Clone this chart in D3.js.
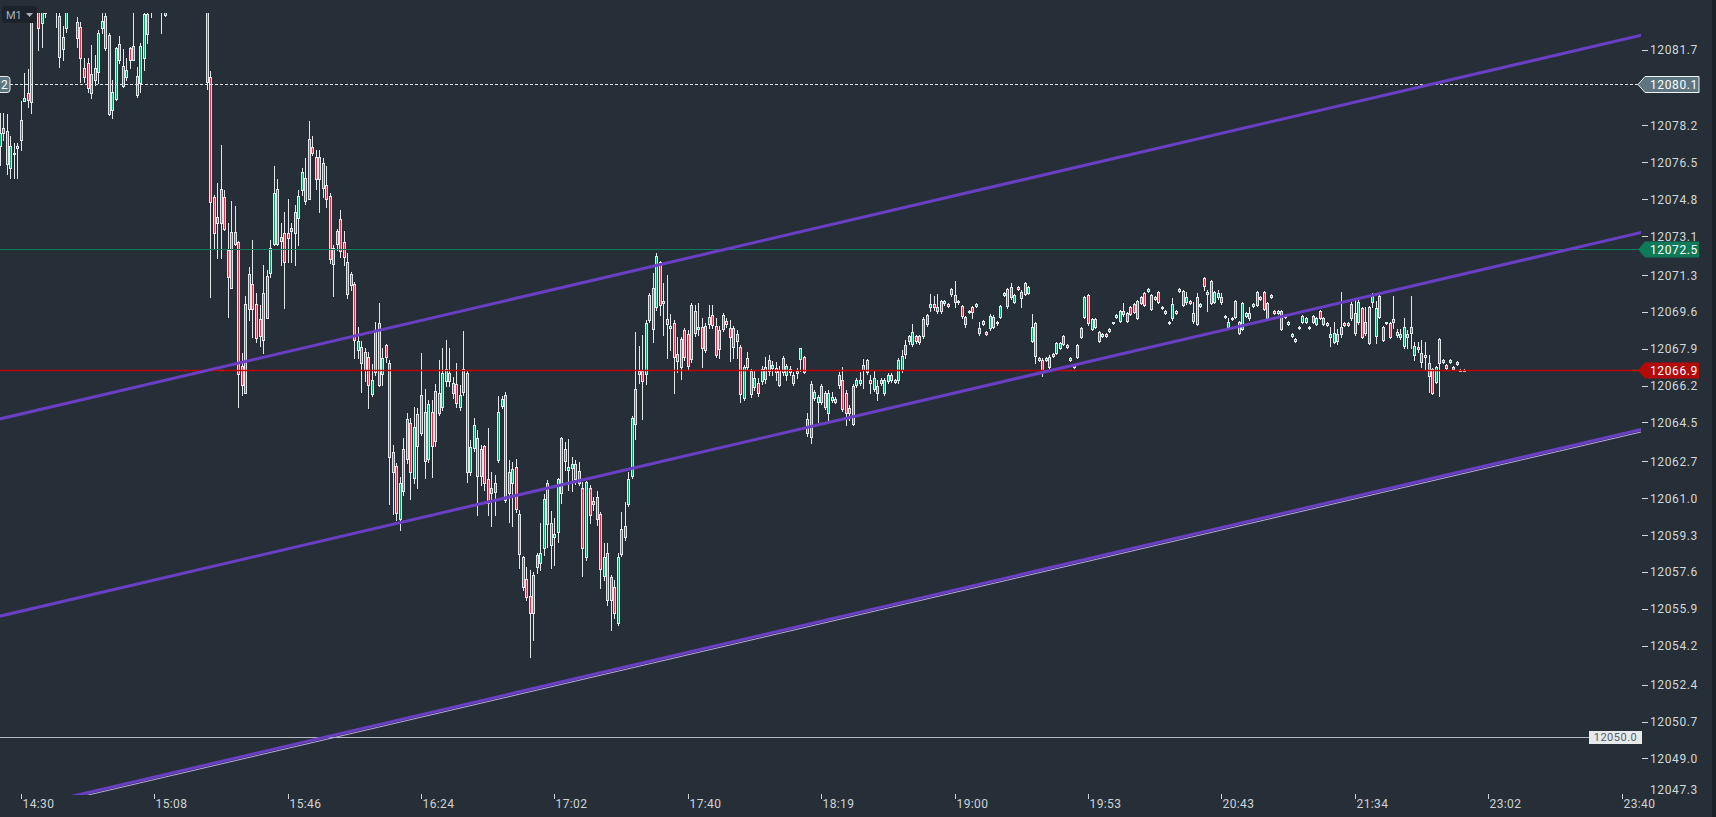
<!DOCTYPE html>
<html>
<head>
<meta charset="utf-8">
<script src="https://cdn.jsdelivr.net/npm/d3@7"></script>
<style>
html, body { margin: 0; padding: 0; background: #262f37; overflow: hidden; }
svg { display: block; }
text { font-family: Roboto, "Noto Sans", sans-serif; }
</style>
</head>
<body>
<div id="wrapper"></div>
<script>
// M1 candles, [open, high, low, close]; first row is bar -6 (14:30 is bar 0)
const firstBar = -6;
const bars = [
[12077.25,12078.78,12076.38,12077.85],[12078.08,12078.78,12077.53,12077.85],[12077.94,12078.73,12075.96,12076.42],
[12076.24,12077.71,12075.78,12077.25],[12076.93,12077.39,12075.78,12076.88],[12077.16,12077.39,12075.78,12077.25],
[12077.53,12079.33,12077.07,12078.45],[12079.33,12080.62,12079.33,12079.47],[12079.70,12080.81,12079.05,12079.38],
[12079.28,12084.20,12078.78,12083.80],[12083.80,12084.60,12083.50,12084.20],[12084.00,12084.50,12081.68,12082.70],
[12082.93,12084.10,12081.82,12083.60],[12083.40,12084.00,12083.20,12083.50],[12084.00,12084.80,12083.60,12084.40],
[12084.40,12085.00,12083.70,12084.00],[12084.20,12084.60,12082.74,12083.80],[12083.25,12083.60,12080.90,12081.36],
[12081.73,12082.80,12081.22,12082.28],[12082.70,12084.00,12082.50,12083.60],[12083.60,12084.50,12083.50,12084.20],
[12084.20,12084.60,12083.60,12083.80],[12082.97,12083.20,12081.82,12082.24],[12082.74,12082.97,12080.21,12081.31],
[12080.85,12081.31,12080.21,12080.44],[12081.08,12081.31,12079.74,12079.93],[12079.70,12081.91,12079.47,12080.58],
[12080.85,12081.45,12080.07,12080.30],[12080.67,12082.60,12080.16,12082.47],[12082.70,12083.40,12082.47,12083.02],
[12083.25,12083.50,12081.70,12081.77],[12082.37,12082.47,12078.68,12078.73],[12078.91,12080.30,12078.54,12079.74],
[12079.42,12081.82,12079.38,12081.77],[12081.96,12082.33,12081.08,12081.22],[12080.94,12081.73,12079.97,12080.02],
[12080.44,12081.31,12080.30,12080.76],[12081.77,12081.82,12080.85,12081.22],[12081.87,12083.40,12081.20,12081.22],
[12080.48,12080.90,12079.51,12079.61],[12080.16,12082.00,12079.74,12081.87],[12081.31,12083.50,12080.76,12083.34],
[12082.42,12083.60,12082.00,12083.34],[12084.00,12084.50,12083.20,12084.30],[12084.30,12085.00,12083.80,12084.60],
[12084.60,12085.20,12084.00,12084.40],[12084.40,12084.90,12082.47,12084.00],[12083.30,12084.00,12083.25,12083.60],
[12083.60,12084.80,12083.50,12084.50],[12084.50,12085.30,12084.10,12085.00],[12085.00,12085.60,12084.40,12084.70],
[12084.70,12085.20,12084.00,12084.30],[12084.30,12085.00,12083.90,12084.80],[12084.80,12085.70,12084.50,12085.40],
[12085.40,12085.90,12084.90,12085.10],[12085.10,12085.50,12084.30,12084.60],[12084.60,12085.10,12084.00,12084.90],
[12084.90,12085.40,12084.20,12084.50],[12084.50,12084.90,12083.80,12084.20],[12084.20,12084.60,12079.88,12080.21],
[12080.44,12080.71,12070.28,12074.67],[12074.90,12075.00,12072.55,12073.24],[12073.70,12075.55,12072.08,12073.98],
[12073.70,12077.30,12072.08,12075.27],[12074.90,12075.22,12073.38,12073.42],[12072.45,12073.70,12069.36,12071.21],
[12070.70,12074.71,12070.70,12073.28],[12072.73,12074.50,12072.70,12073.28],[12072.82,12072.87,12065.21,12066.73],
[12067.10,12067.70,12065.76,12066.22],[12065.85,12070.33,12065.85,12069.96],[12069.73,12071.67,12069.22,12071.35],
[12070.88,12072.91,12068.44,12069.73],[12069.96,12070.47,12068.21,12068.39],[12069.27,12069.92,12068.02,12068.48],
[12068.30,12071.76,12067.70,12070.47],[12069.32,12071.53,12069.30,12071.25],[12071.39,12072.91,12071.20,12072.55],
[12072.73,12076.33,12072.70,12075.08],[12075.27,12075.73,12072.70,12072.73],[12072.87,12073.70,12071.76,12073.05],
[12073.24,12074.21,12069.78,12071.90],[12073.24,12074.81,12071.90,12073.01],[12073.33,12073.70,12071.90,12073.47],
[12073.24,12074.53,12071.76,12074.21],[12073.93,12075.22,12072.70,12074.95],[12075.22,12076.24,12075.00,12076.05],
[12075.78,12076.70,12074.57,12074.71],[12074.81,12078.41,12074.80,12077.58],[12077.21,12077.71,12076.83,12076.93],
[12076.74,12077.07,12075.27,12075.73],[12075.73,12077.07,12074.21,12076.74],[12076.47,12076.70,12074.90,12075.31],
[12075.45,12076.33,12074.44,12074.81],[12074.95,12075.08,12071.85,12072.04],[12071.81,12072.70,12070.33,12072.55],
[12072.73,12073.42,12072.45,12073.33],[12073.88,12074.30,12072.13,12072.41],[12072.82,12073.33,12071.76,12072.13],
[12071.90,12072.30,12070.24,12070.42],[12070.84,12071.44,12070.60,12071.35],[12070.88,12070.97,12067.47,12068.30],
[12067.84,12068.90,12067.47,12068.25],[12067.98,12068.25,12065.90,12067.24],[12066.92,12067.93,12066.41,12067.75],
[12067.52,12067.75,12065.16,12066.22],[12065.81,12067.19,12065.72,12066.45],[12066.82,12069.13,12066.68,12068.72],
[12069.08,12070.01,12066.20,12066.22],[12066.73,12067.93,12066.22,12067.47],[12068.07,12068.10,12067.28,12067.52],
[12067.24,12067.38,12060.73,12062.90],[12063.13,12063.45,12060.27,12062.21],[12062.49,12062.63,12059.99,12060.32],
[12060.04,12061.98,12059.53,12061.70],[12061.33,12063.78,12061.15,12063.27],[12062.81,12064.93,12062.63,12064.65],
[12064.47,12064.70,12060.96,12062.21],[12061.93,12065.21,12061.70,12064.29],[12064.89,12065.16,12061.47,12063.41],
[12064.01,12067.70,12063.92,12065.76],[12064.98,12066.04,12061.93,12062.72],[12062.81,12065.53,12062.67,12065.35],
[12064.98,12065.53,12061.98,12063.41],[12063.64,12066.27,12063.41,12065.95],[12065.85,12067.38,12064.84,12064.93],
[12065.21,12067.93,12065.07,12066.78],[12066.41,12068.30,12066.20,12066.96],[12066.41,12067.93,12066.20,12066.78],
[12066.32,12066.59,12065.62,12065.85],[12066.27,12067.24,12065.20,12065.39],[12065.21,12066.22,12065.07,12065.76],
[12065.90,12068.72,12065.76,12066.96],[12066.78,12066.92,12061.75,12062.21],[12062.21,12063.70,12062.07,12063.36],
[12063.32,12064.70,12063.20,12064.38],[12063.78,12064.15,12060.22,12062.02],[12062.02,12063.45,12061.60,12063.27],
[12063.41,12063.45,12061.40,12061.70],[12061.89,12064.24,12060.22,12060.78],[12061.24,12062.21,12059.72,12061.47],
[12061.29,12062.07,12060.22,12061.70],[12062.76,12065.72,12062.67,12064.98],[12065.25,12065.72,12065.16,12065.58],
[12065.76,12065.90,12060.83,12060.92],[12061.24,12062.76,12059.90,12062.21],[12061.70,12062.67,12059.72,12062.35],
[12062.44,12062.81,12060.36,12060.50],[12060.27,12060.45,12057.78,12058.42],[12058.29,12058.33,12056.76,12056.90],
[12057.27,12057.82,12056.30,12056.44],[12056.49,12057.68,12053.67,12055.70],[12055.70,12057.60,12054.46,12057.46],
[12057.82,12058.47,12057.55,12058.38],[12058.01,12059.85,12057.68,12058.47],[12058.70,12061.19,12058.38,12060.96],
[12061.70,12061.84,12058.75,12059.81],[12059.85,12060.41,12057.78,12058.84],[12059.21,12060.08,12057.92,12059.35],
[12059.44,12061.93,12058.98,12061.89],[12061.24,12063.82,12060.78,12063.78],[12063.27,12063.59,12062.30,12062.72],
[12062.30,12063.73,12061.38,12062.44],[12062.39,12062.90,12061.33,12062.58],[12062.58,12062.76,12061.65,12061.89],
[12062.25,12062.67,12061.60,12061.70],[12061.47,12061.75,12057.41,12058.70],[12058.29,12061.80,12058.15,12061.75],
[12061.47,12061.60,12059.85,12060.22],[12060.73,12061.05,12060.45,12060.87],[12061.05,12061.33,12059.76,12060.04],
[12060.27,12060.36,12056.86,12057.73],[12057.41,12058.93,12057.22,12058.29],[12058.47,12058.93,12056.07,12056.30],
[12056.30,12057.46,12054.92,12057.36],[12056.90,12057.22,12055.47,12055.70],[12055.24,12058.47,12055.15,12058.29],
[12058.42,12060.36,12058.33,12059.58],[12059.21,12060.82,12059.07,12059.72],[12060.73,12062.21,12060.64,12061.89],
[12062.02,12064.79,12061.93,12064.70],[12064.42,12068.67,12063.73,12066.04],[12066.73,12068.02,12066.32,12066.87],
[12066.87,12068.53,12064.65,12066.41],[12066.73,12069.22,12066.27,12069.08],[12069.22,12070.47,12069.13,12070.38],
[12070.70,12071.39,12068.21,12068.81],[12069.82,12072.32,12069.68,12072.18],[12071.90,12071.95,12069.45,12069.92],
[12070.01,12070.93,12068.53,12070.10],[12069.27,12071.30,12067.47,12069.04],[12068.85,12069.50,12067.84,12068.95],
[12069.08,12069.22,12065.85,12067.52],[12067.65,12068.44,12066.82,12067.33],[12067.05,12068.44,12066.50,12068.35],
[12068.76,12068.85,12067.38,12067.52],[12068.58,12068.76,12066.92,12067.10],[12067.42,12070.01,12067.28,12069.92],
[12069.64,12069.92,12068.48,12068.62],[12068.81,12070.01,12068.53,12068.90],[12068.90,12069.32,12067.05,12067.93],
[12067.84,12069.08,12067.75,12068.95],[12069.36,12069.92,12068.85,12069.04],[12069.45,12069.92,12068.85,12068.99],
[12068.95,12069.32,12067.52,12067.61],[12067.88,12068.95,12067.47,12068.76],[12068.81,12069.55,12068.72,12069.45],
[12069.18,12069.32,12068.90,12069.04],[12068.85,12069.22,12067.33,12068.44],[12067.98,12068.95,12067.47,12068.85],
[12068.58,12068.76,12067.47,12068.25],[12067.98,12068.07,12065.44,12065.81],[12065.62,12067.15,12065.53,12067.05],
[12067.47,12067.75,12066.92,12067.05],[12066.87,12066.96,12065.67,12065.81],[12066.13,12066.87,12065.99,12066.55],
[12066.32,12066.55,12065.72,12065.85],[12066.41,12067.10,12066.27,12066.96],[12066.50,12067.52,12066.32,12067.05],
[12067.38,12067.61,12066.68,12066.87],[12067.01,12067.33,12066.68,12067.15],[12067.01,12067.28,12066.45,12066.82],
[12066.22,12067.10,12066.18,12066.92],[12067.47,12067.56,12066.68,12066.82],[12066.68,12067.19,12066.45,12067.10],
[12066.96,12067.10,12066.68,12066.82],[12066.68,12066.82,12066.22,12066.32],[12066.87,12067.01,12066.55,12066.78],
[12067.42,12067.95,12066.87,12067.93],[12067.52,12067.56,12066.78,12066.82],[12064.65,12064.93,12063.88,12064.01],
[12063.82,12066.41,12063.55,12066.27],[12065.62,12065.99,12065.53,12065.90],[12065.44,12065.76,12064.52,12065.67],
[12065.44,12066.27,12065.35,12066.18],[12065.85,12065.95,12065.12,12065.21],[12064.93,12065.99,12064.56,12065.85],
[12065.53,12065.90,12065.44,12065.67],[12065.58,12065.67,12065.39,12065.44],[12066.22,12066.82,12066.09,12066.68],
[12066.45,12067.05,12065.03,12065.12],[12065.85,12065.99,12064.38,12064.93],[12064.93,12065.30,12064.61,12065.16],
[12064.42,12066.27,12064.38,12066.18],[12066.22,12066.55,12066.13,12066.45],[12066.32,12066.82,12066.22,12066.45],
[12066.92,12067.42,12066.09,12067.15],[12067.38,12067.42,12066.73,12066.82],[12066.45,12066.68,12065.85,12066.32],
[12066.04,12066.87,12065.95,12066.55],[12065.85,12066.45,12065.53,12066.18],[12066.45,12066.55,12066.22,12066.32],
[12065.85,12066.55,12065.76,12066.45],[12066.41,12066.78,12066.32,12066.68],[12066.68,12066.78,12066.36,12066.45],
[12066.45,12066.50,12066.32,12066.36],[12066.45,12067.47,12066.32,12067.38],[12066.92,12067.84,12066.82,12067.56],
[12067.65,12068.30,12067.47,12068.07],[12068.48,12068.53,12068.12,12068.25],[12068.12,12069.04,12068.02,12068.67],
[12068.48,12068.53,12068.16,12068.25],[12068.21,12068.53,12068.12,12068.48],[12068.48,12069.36,12068.39,12069.27],
[12069.04,12069.50,12068.95,12069.45],[12069.82,12070.42,12069.64,12069.96],[12069.96,12070.33,12069.68,12069.82],
[12069.64,12070.42,12069.55,12069.82],[12069.64,12070.15,12069.55,12070.10],[12070.01,12070.15,12069.92,12070.10],
[12069.96,12070.00,12069.82,12069.87],[12070.42,12070.70,12070.33,12070.65],[12070.38,12071.02,12069.82,12070.05],
[12070.10,12070.15,12069.96,12070.05],[12069.87,12069.92,12069.32,12069.41],[12069.04,12069.41,12068.90,12069.36],
[12069.64,12069.68,12069.55,12069.59],[12069.82,12069.87,12069.32,12069.59],[12069.87,12070.00,12069.82,12069.96],
[12068.62,12069.13,12068.53,12068.85],[12069.04,12069.22,12068.99,12069.18],[12068.67,12068.70,12068.55,12068.58],
[12068.85,12069.50,12068.76,12069.41],[12068.90,12069.45,12068.85,12069.36],[12069.13,12069.20,12069.00,12069.08],
[12069.36,12069.92,12069.30,12069.87],[12070.38,12070.52,12070.33,12070.47],[12070.65,12070.70,12069.80,12069.87],
[12070.28,12070.93,12070.19,12070.75],[12070.05,12070.42,12070.00,12070.38],[12070.75,12070.80,12070.60,12070.65],
[12070.52,12070.60,12069.82,12070.24],[12070.42,12071.00,12070.38,12070.93],[12070.47,12070.80,12070.42,12070.75],
[12068.25,12069.50,12068.20,12068.90],[12069.08,12069.13,12067.24,12067.56],[12067.38,12067.52,12067.33,12067.47],
[12067.38,12067.47,12066.64,12066.92],[12067.38,12067.52,12067.33,12067.47],[12067.52,12067.61,12067.01,12067.05],
[12067.56,12067.70,12067.52,12067.65],[12067.70,12068.20,12067.65,12068.16],[12067.93,12068.20,12067.88,12068.16],
[12068.12,12068.53,12068.07,12068.48],[12068.07,12068.10,12067.95,12067.98],[12067.38,12067.52,12067.33,12067.47],
[12067.15,12067.20,12067.00,12067.05],[12067.52,12068.10,12067.47,12068.07],[12068.44,12068.90,12068.40,12068.85],
[12069.36,12070.33,12069.30,12070.28],[12070.38,12070.42,12069.00,12069.08],[12068.81,12069.32,12068.76,12069.27],
[12069.27,12069.30,12068.85,12068.90],[12068.67,12068.70,12068.20,12068.25],[12068.48,12068.62,12068.44,12068.58],
[12068.58,12068.62,12068.44,12068.48],[12068.72,12068.85,12068.67,12068.81],[12069.13,12069.15,12069.04,12069.08],
[12069.36,12069.50,12069.32,12069.45],[12069.18,12069.68,12069.13,12069.64],[12069.50,12070.01,12069.41,12069.64],
[12069.18,12069.60,12069.13,12069.55],[12069.82,12069.87,12069.45,12069.50],[12069.96,12070.00,12069.55,12069.59],
[12069.32,12070.15,12069.27,12070.10],[12070.28,12070.33,12069.96,12070.01],[12070.47,12070.52,12069.87,12069.92],
[12070.56,12070.70,12070.52,12070.65],[12070.38,12070.42,12069.68,12069.73],[12070.19,12070.33,12070.15,12070.28],
[12070.52,12070.56,12070.00,12070.05],[12069.78,12069.87,12069.73,12069.82],[12069.64,12069.68,12069.50,12069.55],
[12069.08,12069.18,12069.04,12069.13],[12069.32,12070.24,12069.22,12069.96],[12069.64,12069.68,12069.50,12069.55],
[12070.65,12070.70,12070.52,12070.56],[12070.56,12070.60,12069.87,12069.92],[12070.05,12070.52,12069.96,12070.28],
[12070.10,12070.15,12069.96,12070.01],[12069.55,12070.05,12069.08,12069.18],[12069.04,12070.47,12068.99,12070.28],
[12069.87,12070.00,12069.82,12069.96],[12071.16,12071.20,12070.60,12070.79],[12070.52,12070.60,12069.64,12070.42],
[12071.02,12071.07,12069.96,12070.01],[12070.05,12070.56,12070.00,12070.52],[12070.28,12070.60,12070.19,12070.47],
[12070.05,12070.47,12069.96,12070.28],[12069.36,12069.45,12069.32,12069.41],[12068.90,12069.32,12068.81,12069.13],
[12069.32,12069.36,12069.22,12069.27],[12069.36,12070.15,12069.32,12070.10],[12069.13,12069.18,12068.58,12068.62],
[12068.81,12070.05,12068.76,12070.01],[12069.41,12069.60,12069.36,12069.55],[12069.55,12069.82,12069.22,12069.32],
[12069.87,12070.00,12069.82,12069.96],[12069.92,12070.56,12069.87,12070.52],[12070.28,12070.33,12070.15,12070.19],
[12070.52,12070.56,12069.68,12069.73],[12069.32,12070.05,12069.27,12070.01],[12070.28,12070.42,12070.24,12070.38],
[12069.64,12069.68,12069.50,12069.55],[12069.55,12069.68,12069.50,12069.64],[12068.81,12069.68,12068.76,12069.64],
[12069.41,12069.45,12069.32,12069.36],[12069.04,12069.18,12068.99,12069.13],[12068.48,12068.62,12068.44,12068.58],
[12068.35,12068.39,12068.20,12068.25],[12068.85,12068.95,12068.81,12068.90],[12069.13,12069.45,12069.08,12069.41],
[12069.13,12069.36,12069.08,12069.32],[12068.90,12068.95,12068.81,12068.85],[12069.13,12069.45,12069.08,12069.41],
[12069.04,12069.36,12068.99,12069.32],[12069.64,12069.68,12069.27,12069.32],[12069.04,12069.36,12068.99,12069.32],
[12069.08,12069.13,12068.95,12068.99],[12068.44,12068.90,12068.02,12068.58],[12068.21,12069.13,12068.16,12068.62],
[12068.25,12068.81,12068.12,12068.58],[12068.58,12070.52,12068.44,12068.90],[12069.08,12069.13,12068.95,12068.99],
[12069.08,12069.13,12068.95,12068.99],[12069.32,12070.05,12069.22,12069.96],[12069.55,12070.15,12068.53,12068.62],
[12069.13,12070.15,12069.04,12070.05],[12069.78,12069.82,12068.40,12068.44],[12069.13,12069.82,12068.53,12068.62],
[12068.16,12069.87,12068.12,12069.82],[12070.05,12070.47,12069.82,12070.33],[12068.48,12070.10,12068.16,12069.78],
[12070.33,12070.38,12069.32,12069.36],[12068.90,12068.95,12068.25,12068.30],[12069.13,12069.15,12069.04,12069.08],
[12069.08,12069.13,12068.40,12068.44],[12069.27,12070.33,12068.85,12069.13],[12068.67,12068.81,12068.44,12068.53],
[12068.44,12068.81,12068.35,12068.58],[12068.02,12069.32,12067.93,12068.90],[12068.58,12068.76,12067.93,12068.44],
[12068.90,12070.33,12067.93,12068.62],[12067.61,12068.21,12067.38,12068.02],[12067.98,12068.21,12067.75,12067.88],
[12067.70,12068.30,12067.05,12067.28],[12067.61,12068.21,12066.92,12067.52],[12067.24,12067.61,12065.90,12066.64],
[12066.96,12067.00,12065.81,12065.85],[12066.36,12067.10,12066.32,12067.05],[12067.24,12068.39,12065.72,12068.35],
[12067.28,12067.42,12067.24,12067.38],[12067.15,12067.20,12066.96,12067.01],[12067.28,12067.42,12067.24,12067.38],
[12067.05,12067.10,12066.92,12066.96],[12067.19,12067.33,12067.15,12067.28],[12066.90,12066.96,12066.87,12066.90],
[12066.90,12066.96,12066.87,12066.90]
];

// time axis: one label every 38 bars
const timeLabels = ["14:30","15:08","15:46","16:24","17:02","17:40","18:19","19:00","19:53","20:43","21:34","23:02","23:40"];
const barsPerLabel = 38;

// right price scale
const priceTicks = [12081.7,12078.2,12076.5,12074.8,12073.1,12071.3,12069.6,12067.9,12066.2,12064.5,
  12062.7,12061.0,12059.3,12057.6,12055.9,12054.2,12052.4,12050.7,12049.0,12047.3];

// horizontal price lines
const highLine = 12080.1;    // dashed
const askLine = 12072.5;     // green
const lastLine = 12066.9;    // red
const alertLine = 12050.0;   // grey

// equidistant channel: price of each line at bar -6 and at bar 462
const channelBars = [-6, 462];
const channelStart = [12064.66, 12055.56, 12046.47];
const channelEnd = [12082.38, 12073.28, 12064.19];

const W = 1716, H = 817;
const plotRight = 1641, plotTop = 13, plotBottom = 795;

const svg = d3.select("#wrapper").append("svg")
  .attr("width", W).attr("height", H);

svg.append("rect").attr("width", W).attr("height", H).attr("fill", "#262f37");
svg.append("rect").attr("x", 1712).attr("width", 4).attr("height", H).attr("fill", "#1b2227");

const x = d3.scaleLinear().domain([0, 456]).range([20.8, 1621.6]);
const y = d3.scaleLinear().domain([12080.1, 12050.0]).range([84.3, 736.7]);

const defs = svg.append("defs");
defs.append("clipPath").attr("id", "plot")
  .append("rect").attr("x", 0).attr("y", 0).attr("width", plotRight).attr("height", plotBottom);
defs.append("clipPath").attr("id", "candles")
  .append("rect").attr("x", 0).attr("y", plotTop).attr("width", plotRight).attr("height", plotBottom - plotTop);

const px = v => Math.round(v);

// candles
const cg = svg.append("g").attr("clip-path", "url(#candles)");
bars.forEach(function(b, j) {
  const i = j + firstBar;
  const cx = px(x(i));
  const o = b[0], h = b[1], l = b[2], c = b[3];
  const fill = c > o ? "#10a06e" : (c < o ? "#e0344c" : "#8e989f");
  cg.append("line")
    .attr("x1", cx + 0.5).attr("x2", cx + 0.5)
    .attr("y1", px(y(h))).attr("y2", px(y(l)) + 1)
    .attr("stroke", "#e4e7ea").attr("stroke-width", 1);
  const top = px(y(Math.max(o, c)));
  const bot = px(y(Math.min(o, c)));
  cg.append("rect")
    .attr("x", cx - 0.5).attr("y", top + 0.5)
    .attr("width", 2).attr("height", Math.max(1, bot - top))
    .attr("fill", fill)
    .attr("stroke", "#e4e7ea").attr("stroke-width", 1);
});

// horizontal price lines
const lg = svg.append("g").attr("clip-path", "url(#plot)");
lg.append("line").attr("x1", 0).attr("x2", 1589)
  .attr("y1", px(y(alertLine)) + 0.5).attr("y2", px(y(alertLine)) + 0.5)
  .attr("stroke", "#b4babf").attr("stroke-width", 1);
lg.append("line").attr("x1", 0).attr("x2", 1640)
  .attr("y1", px(y(askLine)) + 0.5).attr("y2", px(y(askLine)) + 0.5)
  .attr("stroke", "#0e7a57").attr("stroke-width", 1);
lg.append("line").attr("x1", 0).attr("x2", 1640)
  .attr("y1", px(y(lastLine)) + 0.5).attr("y2", px(y(lastLine)) + 0.5)
  .attr("stroke", "#c40000").attr("stroke-width", 1.3);
lg.append("line").attr("x1", 10).attr("x2", 1640)
  .attr("y1", px(y(highLine)) + 0.5).attr("y2", px(y(highLine)) + 0.5)
  .attr("stroke", "#e2e4e6").attr("stroke-width", 1).attr("stroke-dasharray", "3,2");

// channel
channelStart.forEach(function(p0, k) {
  const x1 = x(channelBars[0]), x2 = x(channelBars[1]);
  const y1 = y(p0), y2 = y(channelEnd[k]);
  if (k === 2) {
    lg.append("line").attr("x1", x1).attr("x2", x2)
      .attr("y1", y1 + 2.5).attr("y2", y2 + 2.5)
      .attr("stroke", "#b9a9e6").attr("stroke-width", 1);
  }
  lg.append("line").attr("x1", x1).attr("x2", x2)
    .attr("y1", y1).attr("y2", y2)
    .attr("stroke", "#6a3fc6").attr("stroke-width", 3);
});

// right price axis
const ag = svg.append("g");
priceTicks.forEach(function(v, k) {
  const last = k === priceTicks.length - 1;
  const ty = last ? Math.min(y(v), 789) : y(v);
  if (!last) {
    ag.append("line").attr("x1", 1642).attr("x2", 1648)
      .attr("y1", px(ty) + 0.5).attr("y2", px(ty) + 0.5)
      .attr("stroke", "#d3d7da").attr("stroke-width", 1);
  }
  ag.append("text").attr("x", 1650).attr("y", ty + 4.5)
    .attr("font-size", 12).attr("letter-spacing", 0.6)
    .attr("fill", "#d3d7da").text(d3.format(".1f")(v));
});

// price labels on the axis
function axisTag(value, fill, border) {
  const cy = px(y(value)) + 0.5;
  ag.append("path")
    .attr("d", "M1638," + cy + "L1645," + (cy - 8) + "H1699V" + (cy + 8) + "H1645Z")
    .attr("fill", fill)
    .attr("stroke", border || "none").attr("stroke-width", 1);
  ag.append("text").attr("x", 1650).attr("y", cy + 4.5)
    .attr("font-size", 12).attr("letter-spacing", 0.6)
    .attr("fill", "#ffffff").text(d3.format(".1f")(value));
}
axisTag(highLine, "#5d7481", "#f0f2f4");
axisTag(askLine, "#0e7a57");
axisTag(lastLine, "#b30a0a");

// alert label
const ay = px(y(alertLine));
ag.append("rect").attr("x", 1589).attr("y", ay - 6).attr("width", 53).attr("height", 13)
  .attr("fill", "#e6eaec");
ag.append("text").attr("x", 1615.5).attr("y", ay + 4).attr("text-anchor", "middle")
  .attr("font-size", 11).attr("letter-spacing", 0.5)
  .attr("fill", "#555e66").text(d3.format(".1f")(alertLine));

// left cut-off tag of the dashed line
const hy = px(y(highLine)) + 0.5;
svg.append("rect").attr("x", -20).attr("y", hy - 8).attr("width", 30).attr("height", 16).attr("rx", 3)
  .attr("fill", "#5d7481").attr("stroke", "#e8ebee").attr("stroke-width", 1);
svg.append("text").attr("x", 1).attr("y", hy + 4.5)
  .attr("font-size", 12).attr("fill", "#ffffff").text("2");

// time axis
const tg = svg.append("g");
timeLabels.forEach(function(t, k) {
  const tx = px(x(k * barsPerLabel)) + 0.5;
  tg.append("line").attr("x1", tx).attr("x2", tx).attr("y1", 794).attr("y2", 799)
    .attr("stroke", "#cfd3d6").attr("stroke-width", 1);
  tg.append("text").attr("x", tx + 1).attr("y", 807.5)
    .attr("font-size", 12).attr("letter-spacing", 0.4)
    .attr("fill", "#cfd3d6").text(t);
});

// timeframe badge
svg.append("rect").attr("x", 2).attr("y", 6).attr("width", 35).attr("height", 17).attr("rx", 3)
  .attr("fill", "#1c232a");
svg.append("text").attr("x", 6).attr("y", 19).attr("font-size", 11)
  .attr("fill", "#a9b2ba").text("M1");
svg.append("path").attr("d", "M26,13H33L29.5,17Z").attr("fill", "#a9b2ba");
</script>
</body>
</html>
